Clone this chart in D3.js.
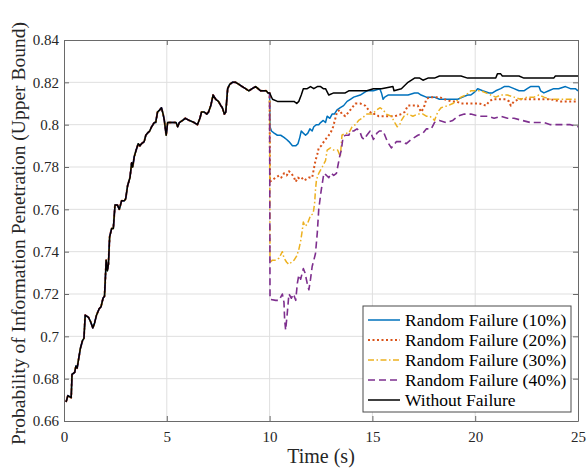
<!DOCTYPE html>
<html>
<head>
<meta charset="utf-8">
<script src="https://cdn.jsdelivr.net/npm/d3@7"></script>
<style>
  body { margin: 0; background: #fff; }
  text { font-family: "Liberation Serif", "Times New Roman", serif; }
</style>
</head>
<body>
<div id="chart"></div>
<script>
// shared curve before the failures start (t < 10 s)
var common = [[0.1,0.669],[0.19,0.672],[0.35,0.671],[0.39,0.682],[0.52,0.683],[0.58,0.686],[0.64,0.685],[0.79,0.694],[0.90,0.698],[0.97,0.699],[1.03,0.710],[1.19,0.709],[1.29,0.707],[1.40,0.704],[1.48,0.706],[1.58,0.710],[1.71,0.713],[1.80,0.714],[1.90,0.718],[1.97,0.719],[2.01,0.727],[2.05,0.736],[2.11,0.731],[2.16,0.734],[2.22,0.747],[2.32,0.751],[2.40,0.751],[2.48,0.762],[2.60,0.762],[2.69,0.760],[2.80,0.764],[2.93,0.764],[3.00,0.765],[3.09,0.771],[3.21,0.775],[3.29,0.782],[3.34,0.780],[3.42,0.785],[3.51,0.788],[3.61,0.791],[3.69,0.790],[3.77,0.791],[3.90,0.792],[3.98,0.795],[4.06,0.796],[4.17,0.797],[4.26,0.799],[4.39,0.801],[4.46,0.801],[4.55,0.806],[4.66,0.807],[4.74,0.808],[4.82,0.805],[4.88,0.802],[4.97,0.795],[5.04,0.801],[5.21,0.801],[5.32,0.801],[5.45,0.801],[5.53,0.799],[5.61,0.801],[5.77,0.802],[5.90,0.803],[6.09,0.802],[6.33,0.801],[6.49,0.800],[6.61,0.803],[6.69,0.806],[6.82,0.806],[6.95,0.805],[7.03,0.806],[7.14,0.809],[7.25,0.814],[7.38,0.812],[7.51,0.811],[7.63,0.809],[7.70,0.808],[7.80,0.805],[7.87,0.806],[7.96,0.817],[8.06,0.819],[8.19,0.820],[8.35,0.820],[8.51,0.819],[8.67,0.818],[8.83,0.817],[8.99,0.816],[9.15,0.817],[9.32,0.818],[9.44,0.817],[9.56,0.816],[9.72,0.816],[9.83,0.816],[9.93,0.815],[10.0,0.815]];

// after t = 10 s
var fail10 = [[10.02,0.799],[10.09,0.797],[10.22,0.796],[10.38,0.795],[10.54,0.795],[10.70,0.794],[10.83,0.793],[10.94,0.792],[11.11,0.790],[11.27,0.790],[11.38,0.791],[11.47,0.794],[11.54,0.797],[11.64,0.796],[11.75,0.795],[11.86,0.796],[11.96,0.798],[12.07,0.797],[12.15,0.799],[12.28,0.800],[12.39,0.800],[12.48,0.801],[12.61,0.802],[12.72,0.801],[12.80,0.804],[12.93,0.803],[13.04,0.805],[13.15,0.805],[13.28,0.807],[13.44,0.808],[13.60,0.809],[13.77,0.811],[13.93,0.812],[14.09,0.813],[14.41,0.814],[14.73,0.816],[15.05,0.816],[15.36,0.817],[15.44,0.815],[15.52,0.812],[15.60,0.813],[15.76,0.814],[16.09,0.814],[16.41,0.814],[16.73,0.814],[17.05,0.815],[17.21,0.815],[17.37,0.814],[17.62,0.813],[18.02,0.813],[18.26,0.812],[18.58,0.812],[18.91,0.812],[19.15,0.812],[19.39,0.813],[19.63,0.814],[19.79,0.814],[19.92,0.815],[20.04,0.816],[20.12,0.817],[20.36,0.816],[20.68,0.815],[20.84,0.815],[21.0,0.816],[21.24,0.817],[21.41,0.818],[21.65,0.818],[21.89,0.817],[22.13,0.816],[22.37,0.816],[22.53,0.817],[22.69,0.818],[22.94,0.818],[23.10,0.818],[23.18,0.816],[23.34,0.815],[23.58,0.816],[23.82,0.817],[24.06,0.817],[24.39,0.818],[24.63,0.817],[24.87,0.817],[25.0,0.816]];

var fail20 = [[10.02,0.773],[10.14,0.774],[10.30,0.775],[10.46,0.776],[10.57,0.775],[10.70,0.777],[10.83,0.776],[10.94,0.778],[11.06,0.777],[11.19,0.775],[11.27,0.773],[11.38,0.775],[11.51,0.774],[11.64,0.775],[11.75,0.774],[11.91,0.775],[12.07,0.775],[12.15,0.779],[12.23,0.783],[12.32,0.786],[12.39,0.789],[12.51,0.790],[12.64,0.792],[12.80,0.794],[12.96,0.796],[13.09,0.799],[13.20,0.803],[13.28,0.806],[13.41,0.807],[13.52,0.805],[13.68,0.804],[13.85,0.806],[14.01,0.808],[14.17,0.810],[14.41,0.810],[14.65,0.809],[14.81,0.807],[14.98,0.805],[15.14,0.805],[15.30,0.804],[15.44,0.804],[15.76,0.804],[16.09,0.804],[16.41,0.805],[16.57,0.806],[16.73,0.809],[16.86,0.809],[17.05,0.809],[17.21,0.809],[17.37,0.806],[17.50,0.808],[17.62,0.812],[17.78,0.813],[18.02,0.813],[18.26,0.813],[18.51,0.812],[18.83,0.811],[19.07,0.811],[19.31,0.810],[19.63,0.810],[19.95,0.810],[20.20,0.810],[20.52,0.809],[20.68,0.811],[20.84,0.812],[21.16,0.812],[21.48,0.812],[21.65,0.811],[21.73,0.809],[21.89,0.811],[22.13,0.812],[22.45,0.812],[22.86,0.812],[23.18,0.812],[23.66,0.812],[24.14,0.811],[25.0,0.811]];

var fail30 = [[10.02,0.735],[10.14,0.736],[10.30,0.736],[10.46,0.737],[10.62,0.740],[10.70,0.737],[10.83,0.735],[10.94,0.734],[11.06,0.735],[11.19,0.736],[11.32,0.738],[11.42,0.741],[11.51,0.745],[11.59,0.750],[11.64,0.754],[11.72,0.752],[11.83,0.753],[11.91,0.755],[11.99,0.757],[12.12,0.758],[12.19,0.763],[12.23,0.769],[12.28,0.774],[12.39,0.777],[12.56,0.780],[12.72,0.783],[12.80,0.788],[12.96,0.789],[13.12,0.788],[13.31,0.788],[13.44,0.785],[13.49,0.791],[13.52,0.795],[13.68,0.796],[13.85,0.796],[14.01,0.799],[14.17,0.800],[14.33,0.802],[14.49,0.803],[14.73,0.805],[14.98,0.805],[15.22,0.807],[15.38,0.808],[15.52,0.807],[15.68,0.805],[15.92,0.804],[16.09,0.801],[16.21,0.799],[16.33,0.800],[16.41,0.802],[16.54,0.804],[16.73,0.805],[16.97,0.804],[17.21,0.805],[17.46,0.805],[17.62,0.804],[17.78,0.804],[17.94,0.803],[18.02,0.802],[18.18,0.806],[18.34,0.808],[18.67,0.809],[18.91,0.810],[19.07,0.811],[19.31,0.813],[19.55,0.814],[19.79,0.816],[20.04,0.816],[20.28,0.816],[20.52,0.815],[20.76,0.814],[21.0,0.813],[21.24,0.814],[21.57,0.814],[21.89,0.813],[22.21,0.812],[22.53,0.813],[22.86,0.813],[23.10,0.814],[23.34,0.813],[23.66,0.812],[24.06,0.812],[24.47,0.812],[25.0,0.812]];

var fail40 = [[10.02,0.7175],[10.30,0.717],[10.46,0.717],[10.62,0.720],[10.70,0.716],[10.73,0.708],[10.78,0.703],[10.86,0.711],[10.94,0.720],[11.06,0.718],[11.16,0.720],[11.27,0.717],[11.35,0.725],[11.42,0.729],[11.51,0.727],[11.64,0.732],[11.72,0.730],[11.83,0.725],[11.91,0.722],[11.99,0.727],[12.07,0.733],[12.15,0.736],[12.23,0.739],[12.32,0.749],[12.39,0.760],[12.51,0.769],[12.64,0.777],[12.77,0.776],[12.88,0.775],[12.99,0.777],[13.12,0.776],[13.25,0.777],[13.31,0.780],[13.41,0.785],[13.49,0.788],[13.57,0.794],[13.68,0.795],[13.85,0.795],[13.96,0.797],[14.09,0.797],[14.25,0.798],[14.38,0.797],[14.49,0.794],[14.60,0.793],[14.73,0.795],[14.89,0.797],[15.05,0.793],[15.22,0.796],[15.34,0.797],[15.52,0.797],[15.73,0.792],[15.92,0.789],[16.17,0.792],[16.41,0.792],[16.65,0.791],[16.89,0.793],[17.05,0.794],[17.21,0.795],[17.46,0.796],[17.62,0.798],[17.86,0.798],[18.02,0.801],[18.26,0.802],[18.58,0.801],[18.91,0.802],[19.15,0.804],[19.47,0.805],[19.79,0.805],[20.20,0.804],[20.60,0.804],[20.92,0.803],[21.24,0.804],[21.57,0.803],[21.89,0.803],[22.29,0.802],[22.69,0.801],[23.02,0.801],[23.34,0.801],[23.66,0.800],[23.98,0.800],[24.31,0.800],[24.63,0.800],[25.0,0.799]];

var noFail = [[10.14,0.812],[10.38,0.811],[10.70,0.811],[10.94,0.811],[11.19,0.811],[11.32,0.810],[11.42,0.811],[11.54,0.814],[11.64,0.817],[11.83,0.817],[11.99,0.818],[12.15,0.817],[12.32,0.818],[12.48,0.818],[12.61,0.817],[12.72,0.817],[12.88,0.814],[13.12,0.815],[13.36,0.815],[13.52,0.815],[13.68,0.815],[13.85,0.816],[14.09,0.816],[14.41,0.816],[14.73,0.816],[15.05,0.817],[15.44,0.817],[16.0,0.818],[16.05,0.816],[16.41,0.817],[16.73,0.820],[17.05,0.822],[17.30,0.822],[17.46,0.821],[17.70,0.822],[18.02,0.822],[18.26,0.823],[18.42,0.823],[18.67,0.823],[18.99,0.823],[19.31,0.823],[19.63,0.822],[20.12,0.822],[20.60,0.822],[21.0,0.822],[21.08,0.824],[21.24,0.824],[21.32,0.823],[21.48,0.823],[21.65,0.823],[21.89,0.823],[22.13,0.823],[22.37,0.822],[22.69,0.822],[22.86,0.822],[23.02,0.822],[23.34,0.822],[23.58,0.822],[23.82,0.822],[23.90,0.823],[24.47,0.823],[25.0,0.823]];

var seriesNames = ["Random Failure (10%)", "Random Failure (20%)", "Random Failure (30%)", "Random Failure (40%)", "Without Failure"];
var seriesTails = [fail10, fail20, fail30, fail40, noFail];
var xTicks = [0, 5, 10, 15, 20, 25];
var yTicks = [0.66, 0.68, 0.70, 0.72, 0.74, 0.76, 0.78, 0.80, 0.82, 0.84];

var colors = ["#0072BD", "#D95319", "#EDB120", "#7E2F8E", "#000000"];
var dashes = [null, "2,2.5", "6,2.5,1.5,2.5", "7,4", null];
var widths = [1.5, 2, 1.5, 1.6, 1.5];

var W = 587, H = 468;
var margin = {top: 40, left: 64, right: 9, bottom: 47};
var width = W - margin.left - margin.right,
    height = H - margin.top - margin.bottom;

var svg = d3.select("#chart").append("svg")
    .attr("width", W).attr("height", H);

var g = svg.append("g")
    .attr("transform", "translate(" + margin.left + "," + margin.top + ")");

var x = d3.scaleLinear().domain([0, 25]).range([0, width]);
var y = d3.scaleLinear().domain([0.66, 0.84]).range([height, 0]);

// grid
g.append("g").selectAll("line")
    .data(xTicks.slice(1, -1))
    .enter().append("line")
    .attr("x1", function(d){ return x(d); }).attr("x2", function(d){ return x(d); })
    .attr("y1", 0).attr("y2", height)
    .attr("stroke", "#dfdfdf").attr("stroke-width", 1);
g.append("g").selectAll("line")
    .data(yTicks.slice(1, -1))
    .enter().append("line")
    .attr("y1", function(d){ return y(d); }).attr("y2", function(d){ return y(d); })
    .attr("x1", 0).attr("x2", width)
    .attr("stroke", "#dfdfdf").attr("stroke-width", 1);

var line = d3.line()
    .x(function(d){ return x(d[0]); })
    .y(function(d){ return y(d[1]); });

seriesTails.forEach(function(tail, i){
    var pts = common.concat(tail);
    g.append("path")
        .datum(pts)
        .attr("d", line)
        .attr("fill", "none")
        .attr("stroke", colors[i])
        .attr("stroke-width", widths[i])
        .attr("stroke-dasharray", dashes[i])
        .attr("stroke-linejoin", "round");
});

// axes, ticks pointing inward
var fmt = function(d){ return String(+d.toFixed(2)); };
var axColor = "#6a6a6a";

var xAxis = g.append("g").attr("transform", "translate(0," + height + ")")
    .call(d3.axisBottom(x).tickValues(xTicks).tickSizeInner(-5).tickSizeOuter(0).tickPadding(10).tickFormat(fmt));
var xTop = g.append("g")
    .call(d3.axisTop(x).tickValues(xTicks).tickSizeInner(-5).tickSizeOuter(0).tickFormat(""));
var yAxis = g.append("g")
    .call(d3.axisLeft(y).tickValues(yTicks).tickSizeInner(-5).tickSizeOuter(0).tickPadding(5).tickFormat(fmt));
var yRight = g.append("g").attr("transform", "translate(" + width + ",0)")
    .call(d3.axisRight(y).tickValues(yTicks).tickSizeInner(-5).tickSizeOuter(0).tickFormat(""));

[xAxis, xTop, yAxis, yRight].forEach(function(a){
    a.select(".domain").attr("stroke", axColor);
    a.selectAll(".tick line").attr("stroke", axColor);
    a.selectAll(".tick text")
        .attr("fill", "#262626")
        .style("font-size", "15px")
        .style("font-family", "'Liberation Serif', 'Times New Roman', serif");
});

// axis labels
svg.append("text")
    .attr("x", margin.left + width / 2).attr("y", 463)
    .attr("text-anchor", "middle")
    .attr("fill", "#262626")
    .style("font-size", "20px")
    .text("Time (s)");

svg.append("text")
    .attr("transform", "translate(25," + (margin.top + height / 2 + 3) + ") rotate(-90)")
    .attr("text-anchor", "middle")
    .attr("fill", "#262626")
    .style("font-size", "19.5px")
    .text("Probability of Information Penetration (Upper Bound)");

// legend
var lg = svg.append("g").attr("transform", "translate(363,306)");
lg.append("rect")
    .attr("width", 208).attr("height", 106)
    .attr("fill", "#fff").attr("stroke", "#4a4a4a").attr("stroke-width", 1);

var rows = lg.selectAll(".row")
    .data(seriesNames)
    .enter().append("g")
    .attr("class", "row")
    .attr("transform", function(d, i){ return "translate(0," + (14 + i * 20) + ")"; });

rows.append("line")
    .attr("x1", 5).attr("x2", 37)
    .attr("stroke", function(d, i){ return colors[i]; })
    .attr("stroke-width", function(d, i){ return widths[i]; })
    .attr("stroke-dasharray", function(d, i){ return dashes[i]; });

rows.append("text")
    .attr("x", 42).attr("dy", "0.33em")
    .attr("fill", "#000")
    .style("font-size", "17.5px")
    .text(function(d){ return d; });
</script>
</body>
</html>
